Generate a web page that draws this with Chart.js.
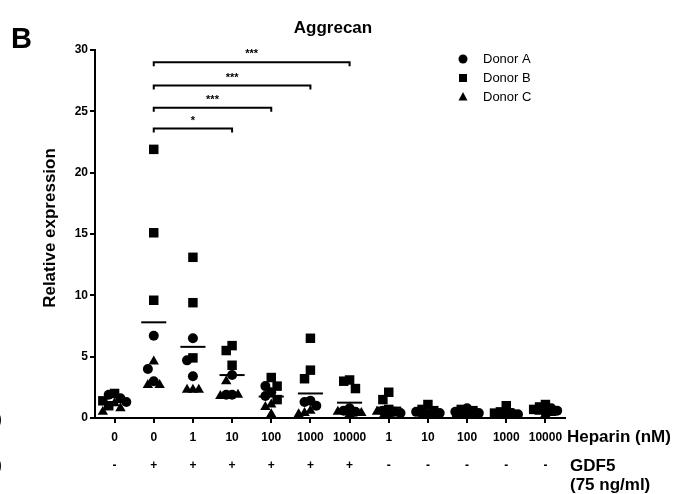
<!DOCTYPE html>
<html>
<head>
<meta charset="utf-8">
<script src="https://cdn.jsdelivr.net/npm/chart.js@4.4.0/dist/chart.umd.min.js"></script>
<style>
  html, body { margin: 0; padding: 0; background: #fff; }
  #wrap { width: 676px; height: 494px; position: relative; }
</style>
</head>
<body>
<div id="wrap"><canvas id="myChart"></canvas></div>
<script>
// ===== DATA =====
const heparin = ["0", "0", "1", "10", "100", "1000", "10000", "1", "10", "100", "1000", "10000"];
const gdf5 = ["-", "+", "+", "+", "+", "+", "+", "-", "-", "-", "-", "-"];

// one array of replicates per heparin group
const donorA = [
  [1.9, 1.6, 1.3], [6.7, 4.0, 3.0], [6.5, 4.7, 3.4], [3.5, 1.9, 1.9],
  [2.6, 2.1, 1.8], [1.4, 1.3, 1.0], [0.8, 0.6, 0.5], [0.6, 0.5, 0.4],
  [0.4, 0.3, 0.5], [0.8, 0.5, 0.4], [0.4, 0.3, 0.3], [0.8, 0.6, 0.5],
];
const donorB = [
  [2.0, 1.4, 1.0], [21.9, 15.1, 9.6], [13.1, 9.4, 4.9], [5.9, 5.5, 4.3],
  [3.3, 2.6, 1.5], [6.5, 3.9, 3.2], [3.1, 3.0, 2.4], [2.1, 1.5, 0.7],
  [1.1, 0.7, 0.6], [0.7, 0.6, 0.4], [1.0, 0.5, 0.4], [1.1, 0.9, 0.7],
];
const donorC = [
  [1.2, 0.8, 0.5], [4.6, 2.7, 2.7], [2.3, 2.3, 2.3], [3.0, 1.9, 1.8],
  [0.9, 0.3, 1.1], [0.6, 0.4, 0.3], [0.4, 0.3, 0.5], [0.5, 0.3, 0.1],
  [0.2, 0.3, 0.1], [0.3, 0.2, 0.1], [0.2, 0.1, 0.1], [0.5, 0.4, 0.3],
];
const means = [1.3, 7.8, 5.8, 3.5, 1.75, 2.0, 1.25, 0.85, 0.45, 0.45, 0.35, 0.6];

// significance brackets: all start at group 1 (GDF5, no heparin)
const bracketEnds = [3, 4, 5, 6];
const bracketLevels = [23.6, 25.3, 27.1, 29.0];
const bracketStars = ["*", "***", "***", "***"];

const donorNames = ["Donor A", "Donor B", "Donor C"];
const FONT = "'Liberation Sans', Arial, sans-serif";

// ===== spread overlapping points sideways (column scatter) =====
const STEP = 0.15;   // category units
const NEAR = 0.72;   // value units
const SLOTS = [0, -1, 1, -2, 2];
function spread() {
  const out = [[], [], []];
  heparin.forEach((_, g) => {
    const pts = [];
    [donorA, donorB, donorC].forEach((d, di) => d[g].forEach((v) => pts.push({ v, di })));
    pts.sort((a, b) => b.v - a.v);
    const placed = [];
    pts.forEach((p) => {
      let best = 0;
      let bestHits = Infinity;
      SLOTS.forEach((s) => {
        const cand = s * STEP;
        const hits = placed.filter((q) => Math.abs(q.off - cand) < STEP * 0.95 && Math.abs(q.v - p.v) < NEAR).length;
        if (hits < bestHits) { bestHits = hits; best = cand; }
      });
      placed.push({ v: p.v, off: best });
      out[p.di].push({ x: g + best, y: p.v });
    });
  });
  return out;
}
const pts = spread();

// ===== EXTRA DRAWING =====
const extrasPlugin = {
  id: "extras",
  afterDraw(chart) {
    const { ctx } = chart;
    const x = chart.scales.x;
    const y = chart.scales.y;
    ctx.save();
    ctx.strokeStyle = "#000";
    ctx.fillStyle = "#000";
    ctx.lineWidth = 2;

    // mean lines
    means.forEach((m, i) => {
      const py = y.getPixelForValue(m);
      ctx.beginPath();
      ctx.moveTo(x.getPixelForValue(i - 0.32), py);
      ctx.lineTo(x.getPixelForValue(i + 0.32), py);
      ctx.stroke();
    });

    // brackets
    ctx.textAlign = "center";
    ctx.textBaseline = "middle";
    bracketEnds.forEach((end, k) => {
      const x1 = x.getPixelForValue(1);
      const x2 = x.getPixelForValue(end);
      const py = y.getPixelForValue(bracketLevels[k]);
      ctx.beginPath();
      ctx.moveTo(x1, py + 4);
      ctx.lineTo(x1, py);
      ctx.lineTo(x2, py);
      ctx.lineTo(x2, py + 4);
      ctx.stroke();
      ctx.font = "bold 11px " + FONT;
      ctx.fillText(bracketStars[k], (x1 + x2) / 2, py - 8);
    });

    // title, panel letter
    ctx.font = "bold 17px " + FONT;
    ctx.fillText("Aggrecan", 333, 28);
    ctx.textAlign = "left";
    ctx.font = "bold 29px " + FONT;
    ctx.fillText("B", 11, 40);

    // y title
    ctx.save();
    ctx.translate(50, 228);
    ctx.rotate(-Math.PI / 2);
    ctx.textAlign = "center";
    ctx.font = "bold 17px " + FONT;
    ctx.fillText("Relative expression", 0, 0);
    ctx.restore();

    // x captions
    ctx.textAlign = "left";
    ctx.font = "bold 17px " + FONT;
    ctx.fillText("Heparin (nM)", 567, 437);
    ctx.fillText("GDF5", 570, 466);
    ctx.fillText("(75 ng/ml)", 570, 485);
    ctx.font = "bold 12px " + FONT;
    ctx.textAlign = "center";
    gdf5.forEach((s, i) => ctx.fillText(s, x.getPixelForValue(i), 466));
    ctx.textAlign = "left";
    ctx.font = "bold 14px " + FONT;
    ctx.fillText(")", -3, 420);
    ctx.fillText(")", -3, 466);

    // legend
    const styles = ["circle", "rect", "triangle"];
    ctx.font = "13px " + FONT;
    styles.forEach((s, k) => {
      const ly = 59 + k * 19;
      const lx = 463;
      ctx.beginPath();
      if (s === "circle") {
        ctx.arc(lx, ly, 4.5, 0, Math.PI * 2);
      } else if (s === "rect") {
        ctx.rect(lx - 4, ly - 4, 8, 8);
      } else {
        ctx.moveTo(lx, ly - 5);
        ctx.lineTo(lx + 4.5, ly + 3.5);
        ctx.lineTo(lx - 4.5, ly + 3.5);
        ctx.closePath();
      }
      ctx.fill();
      ctx.fillText(donorNames[k], 483, ly);
    });
    ctx.restore();
  },
};

// ===== CHART =====
const ctx = document.getElementById("myChart");
new Chart(ctx, {
  type: "scatter",
  data: {
    datasets: [
      { label: donorNames[0], data: pts[0], pointStyle: "circle", pointRadius: 5, backgroundColor: "#000", borderWidth: 0 },
      { label: donorNames[1], data: pts[1], pointStyle: "rect", pointRadius: 6.7, backgroundColor: "#000", borderWidth: 0 },
      { label: donorNames[2], data: pts[2], pointStyle: "triangle", pointRadius: 6, backgroundColor: "#000", borderWidth: 0 },
    ],
  },
  options: {
    responsive: true,
    maintainAspectRatio: false,
    animation: false,
    layout: { padding: { left: 0, right: 111, top: 50, bottom: 0 } },
    plugins: {
      legend: { display: false },
      tooltip: { enabled: false },
    },
    scales: {
      x: {
        type: "linear",
        min: -0.5,
        max: 11.5,
        afterFit: (scale) => { scale.height = 76; },
        afterBuildTicks: (scale) => { scale.ticks = heparin.map((_, i) => ({ value: i })); },
        border: { display: true, color: "#000", width: 2 },
        grid: { drawOnChartArea: false, color: "#000", lineWidth: 2, tickLength: 5 },
        ticks: {
          autoSkip: false,
          maxRotation: 0,
          padding: 7,
          color: "#000",
          font: { family: FONT, size: 12, weight: "bold" },
          callback: (v) => heparin[v] ?? "",
        },
      },
      y: {
        min: 0,
        max: 30,
        afterFit: (scale) => { scale.width = 95; },
        border: { display: true, color: "#000", width: 2 },
        grid: { drawOnChartArea: false, color: "#000", lineWidth: 2, tickLength: 5 },
        ticks: {
          stepSize: 5,
          padding: 2,
          color: "#000",
          font: { family: FONT, size: 12, weight: "bold" },
        },
      },
    },
  },
  plugins: [extrasPlugin],
});
</script>
</body>
</html>
